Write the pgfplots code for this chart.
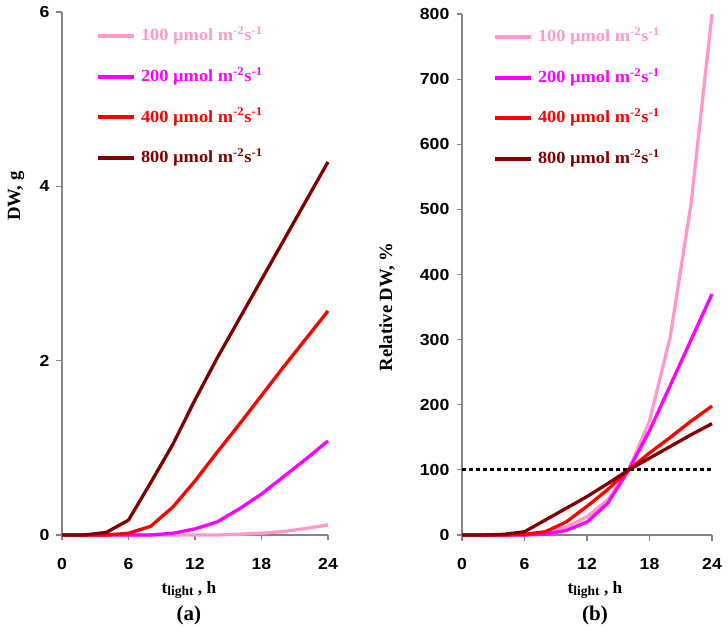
\documentclass[border=0pt]{standalone}
\usepackage{pgfplots}
\pgfplotsset{compat=1.18}
\usepackage{fontspec}
\setmainfont{Liberation Serif}
\newfontfamily\tickfont[FakeStretch=1.1]{Liberation Sans}
\newfontfamily\legfont[FakeStretch=1.08]{Liberation Serif}
\definecolor{cA}{RGB}{255,153,204}
\definecolor{cB}{RGB}{255,0,255}
\definecolor{cC}{RGB}{255,0,0}
\definecolor{cD}{RGB}{128,0,0}
\definecolor{axgray}{RGB}{134,134,134}
\pgfplotstableread{
t   a     b     c     d
0   0     0     0     0
2   0     0     0     0
4   0     0     0     0.03
6   0     0     0.02  0.17
8   0     0     0.10  0.60
10  0     0.02  0.32  1.04
12  0     0.07  0.62  1.55
14  0     0.15  0.95  2.03
16  0.01  0.30  1.27  2.48
18  0.02  0.47  1.60  2.93
20  0.04  0.67  1.93  3.38
22  0.075 0.87  2.25  3.83
24  0.115 1.08  2.57  4.28
}\dwtable
\pgfplotstableread{
t   a     b     c     d
0   0     0     0     0
2   0     0     0     0
4   0     0     0     1
6   0     0     1     5
8   4     1     5     23
10  12    7     20    41
12  28    20    44    59
14  54    49    70    79
16  100   100   100   100
18  175   160   126   118
20  305   230   150   136
22  510   300   175   154
24  800   370   198   171
}\reltable
\pgfplotsset{
  myaxis/.style={
    scale only axis,
    axis x line*=bottom, axis y line*=left,
    axis line style={-, draw=axgray, line width=1.2bp},
    tick style={draw=axgray, line width=1.2bp},
    tick align=outside, major tick length=5.5bp,
    /pgf/number format/assume math mode=true,
    xmin=0, xmax=24, xtick={0,6,12,18,24},
    ticklabel style={font=\tickfont\bfseries\fontsize{16bp}{18bp}\selectfont, inner sep=0pt},
    xticklabel style={anchor=north, yshift=-18bp},
    yticklabel style={anchor=east, xshift=-7bp},
    clip=false,
    legend columns=1,
    legend cell align=left,
    legend image code/.code={\draw[line width=4bp] (0bp,0bp) -- (36bp,0bp);},
    legend style={draw=none, fill=none, anchor=north west, inner sep=0pt, outer sep=0pt,
      row sep=24.2bp, column sep=5bp,
      nodes={inner sep=0pt, text height=13bp, text depth=3.5bp, anchor=west,
        font=\legfont\bfseries\fontsize{17bp}{19bp}\selectfont}},
    every axis plot/.append style={line width=3.3bp, no markers, line join=round},
  },
}
\newcommand{\unit}{ µmol m\textsuperscript{-2}s\textsuperscript{-1}}
\newcommand{\tlab}{t\raisebox{-2bp}{\fontsize{13.5bp}{15bp}\selectfont light} , h}
\begin{document}
\begin{tikzpicture}
\path[use as bounding box] (0,0) rectangle (728bp,630bp);
% ---------- (a)
\begin{axis}[myaxis, at={(62bp,95bp)}, anchor=south west,
  width=266bp, height=523bp, ymin=0, ymax=6, ytick={0,2,4,6},
  legend style={at={(rel axis cs:0.128,0.970)}}]
\addplot[cA] table[x=t,y=a] {\dwtable};
\addlegendentry{\textcolor{cA}{100\unit}}
\addplot[cB] table[x=t,y=b] {\dwtable};
\addlegendentry{\textcolor{cB}{200\unit}}
\addplot[cC] table[x=t,y=c] {\dwtable};
\addlegendentry{\textcolor{cC}{400\unit}}
\addplot[cD] table[x=t,y=d] {\dwtable};
\addlegendentry{\textcolor{cD}{800\unit}}
\node[rotate=90, font=\bfseries\fontsize{18.7bp}{20bp}\selectfont] at ([xshift=-46bp]rel axis cs:0,0.648) {DW, g};
\node[anchor=base, font=\bfseries\fontsize{17.3bp}{19bp}\selectfont] at ([yshift=-58bp]rel axis cs:0.477,0) {\tlab};
\node[anchor=base, font=\bfseries\fontsize{21bp}{24bp}\selectfont] at ([yshift=-85bp]rel axis cs:0.477,0) {(a)};
\end{axis}
% ---------- (b)
\begin{axis}[myaxis, at={(462bp,95bp)}, anchor=south west,
  width=250bp, height=521bp, ymin=0, ymax=800, ytick={0,100,...,800},
  legend style={at={(rel axis cs:0.124,0.972)}}]
\addplot[forget plot, black, line width=3bp, dash pattern=on 3.5bp off 3.5bp, line cap=butt] coordinates {(0,100) (24,100)};
\addplot[cA] table[x=t,y=a] {\reltable};
\addlegendentry{\textcolor{cA}{100\unit}}
\addplot[cB] table[x=t,y=b] {\reltable};
\addlegendentry{\textcolor{cB}{200\unit}}
\addplot[cC] table[x=t,y=c] {\reltable};
\addlegendentry{\textcolor{cC}{400\unit}}
\addplot[cD] table[x=t,y=d] {\reltable};
\addlegendentry{\textcolor{cD}{800\unit}}
\node[rotate=90, font=\bfseries\fontsize{18.7bp}{20bp}\selectfont] at ([xshift=-75bp]rel axis cs:0,0.438) {Relative DW, \%};
\node[anchor=base, font=\bfseries\fontsize{17.3bp}{19bp}\selectfont] at ([yshift=-58bp]rel axis cs:0.532,0) {\tlab};
\node[anchor=base, font=\bfseries\fontsize{21bp}{24bp}\selectfont] at ([yshift=-85bp]rel axis cs:0.532,0) {(b)};
\end{axis}
\end{tikzpicture}
\end{document}
